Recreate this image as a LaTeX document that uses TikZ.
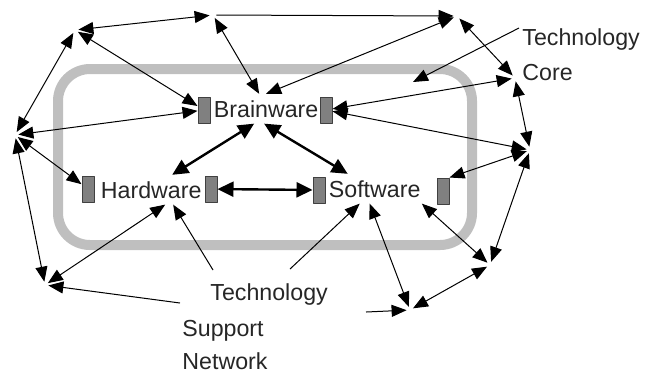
\documentclass[tikz,border=0pt]{standalone}
\usepackage{fontspec}
\setmainfont{Liberation Sans}
\usetikzlibrary{arrows.meta,calc}
\tikzset{
  hub/.style={circle,inner sep=0pt,minimum size=3pt,draw=none},
  word/.style={inner xsep=0.5pt,inner ysep=3pt,anchor=base west,font=\fontsize{11.6}{17.5}\selectfont,text=black!85},
  port/.style={rectangle,draw=black!75,fill=black!50,line width=0.5pt,minimum width=6pt,minimum height=13pt,inner sep=0pt},
  link/.style={{Triangle[length=7.5pt,width=6pt]}-{Triangle[length=7.5pt,width=6pt]},line width=0.5pt},
  tie/.style={{Triangle[length=8pt,width=7.5pt]}-{Triangle[length=8pt,width=7.5pt]},line width=1.2pt},
  lead/.style={-{Triangle[length=7.5pt,width=6pt]},line width=0.5pt},
}
\begin{document}
\begin{tikzpicture}[x=0.5pt,y=-0.5pt,line join=bevel]
\useasboundingbox (0,0) rectangle (646,372);
%% core frame
\draw [black!25,line width=5pt,rounded corners=16pt] (58,69) rectangle (472,245);
%% components
\node (node_brain) at (212.5,117) [word] {Brainware};
\node (node_hard) at (99.5,198) [word] {Hardware};
\node (node_soft) at (327.5,197) [word] {Software};
\node (port_bl) at (204,110) [port] {};
\node (port_br) at (326,110) [port] {};
\node (port_hl) at (88,189) [port] {};
\node (port_hr) at (211,189) [port] {};
\node (port_sl) at (319,190) [port] {};
\node (port_sr) at (443,191) [port] {};
%% network hubs
\node (hub_1) at (75,30) [hub] {};
\node (hub_2) at (213,15) [hub] {};
\node (hub_3) at (457,16) [hub] {};
\node (hub_4) at (515,78) [hub] {};
\node (hub_5) at (530,150) [hub] {};
\node (hub_6) at (490,265) [hub] {};
\node (hub_7) at (410,310) [hub] {};
\node (hub_8) at (45,285) [hub] {};
\node (hub_9) at (15,135) [hub] {};
%% labels
\node (lbl_tc1) at (521,45) [word] {Technology};
\node (lbl_tc2) at (521,80) [word] {Core};
\node (lbl_ts1) at (209,300) [word] {Technology};
\node (lbl_ts2) at (181,336) [word] {Support};
\node (lbl_ts3) at (181,369) [word] {Network};
\coordinate (tail_1) at (519,28);
\coordinate (head_1) at (413,82);
\coordinate (tail_2) at (213,270);
\coordinate (tail_3) at (290,269);
\coordinate (tail_4) at (180,303);
\coordinate (tail_5) at (366,312);
%% ring
\draw [link] (hub_1) -- (hub_2);
\draw [lead] (hub_2) -- (hub_3);
\draw [link] (hub_3) -- (hub_4);
\draw [link] (hub_4) -- (hub_5);
\draw [link] (hub_5) -- (hub_6);
\draw [link] (hub_6) -- (hub_7);
\draw [link] (hub_8) -- (hub_9);
\draw [link] (hub_9) -- (hub_1);
%% ring to components
\draw [link] (hub_1) -- (port_bl);
\draw [link] (hub_9) -- (port_bl);
\draw [link] (hub_2) -- ($(node_brain.north)+(-7,0)$);
\draw [link] (hub_3) -- (node_brain.north);
\draw [link] (hub_4) -- (port_br);
\draw [link] (hub_5) -- (port_br);
\draw [link] (hub_5) -- (port_sr.north east);
\draw [link] (hub_6) -- (node_soft.south east);
\draw [link] (hub_7) -- ($(node_soft.south)+(-5,0)$);
\draw [link] (hub_9) -- (port_hl);
\draw [link] (hub_8) -- ($(node_hard.south)+(14,0)$);
%% core links
\draw [tie] ($(node_brain.south)+(-12,0)$) -- ($(node_hard.north)+(21,0)$);
\draw [tie] ($(node_brain.south)+(-2,0)$) -- ($(node_soft.north)+(-27,0)$);
\draw [tie] (port_hr) -- (port_sl);
%% label leaders
\draw [lead] (tail_1) -- (head_1);
\draw [lead] (tail_2) -- ($(node_hard.south)+(22,0)$);
\draw [lead] (tail_3) -- ($(node_soft.south)+(-15,0)$);
\draw [lead] (tail_4) -- (hub_8);
\draw [lead] (tail_5) -- (hub_7);
%
\end{tikzpicture}
\end{document}
